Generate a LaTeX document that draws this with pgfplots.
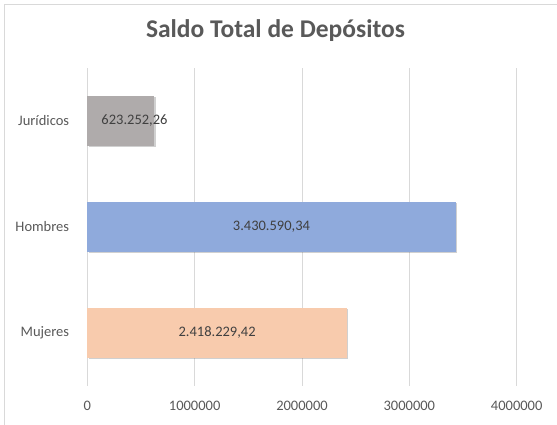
\documentclass[border=0pt]{standalone}
\usepackage{pgfplots}
\pgfplotsset{compat=1.18}
\usetikzlibrary{shadows}
\usepackage{fontspec}
\setmainfont{Carlito}
\definecolor{txt}{HTML}{595959}
\definecolor{lbl}{HTML}{404040}
\definecolor{gridc}{HTML}{D9D9D9}
\definecolor{frm}{HTML}{D9D9D9}
\definecolor{cgray}{HTML}{AFABAB}
\definecolor{cblue}{HTML}{8FAADC}
\definecolor{cpeach}{HTML}{F8CBAD}
\begin{document}
\begin{tikzpicture}
\useasboundingbox (-87.3pt,-38.3pt) rectangle (469.7pt,385.7pt);
\fill[white] (-87.3pt,-38.3pt) rectangle (469.7pt,385.7pt);
\draw[frm,line width=0.8pt] (-83.3pt,-40pt) -- (-83.3pt,381.7pt) -- (472pt,381.7pt);
\begin{axis}[
  at={(0,0)}, anchor=south west,
  scale only axis,
  width=429.4pt, height=317.7pt,
  xmin=0, xmax=4000000,
  ymin=-0.5, ymax=2.5,
  xbar, bar width=50pt, bar shift=0pt,
  axis line style={draw=none},
  major tick length=0pt,
  xmajorgrids, grid style={gridc, line width=0.8pt},
  xtick={0,1000000,2000000,3000000,4000000},
  xticklabels={0,1000000,2000000,3000000,4000000},
  ytick={0,1,2},
  yticklabels={Mujeres,Hombres,Jurídicos},
  scaled x ticks=false,
  tick label style={font=\fontsize{14.5}{17}\selectfont, text=txt},
  xticklabel style={anchor=base, yshift=-24.3pt, inner sep=0pt},
  yticklabel style={anchor=east, xshift=-18pt, inner sep=0pt},
  title={Saldo Total de Depósitos},
  title style={at={(0.5,1)}, anchor=base, yshift=24.7pt, xshift=-26.5pt,
    font=\fontsize{25.5}{30}\selectfont\bfseries, text=txt},
  point meta=explicit symbolic,
  nodes near coords,
  every node near coord/.append style={anchor=center, text=lbl,
    font=\fontsize{14.5}{17}\selectfont},
  clip=false,
]
\addplot[fill=cpeach, draw=none,
  drop shadow={shadow xshift=1.3pt, shadow yshift=-1.3pt, opacity=0.3, fill=black!60},
  every node near coord/.append style={xshift=-129.8pt}]
  coordinates {(2418229.42,0) [2.418.229,42]};
\addplot[fill=cblue, draw=none,
  drop shadow={shadow xshift=1.3pt, shadow yshift=-1.3pt, opacity=0.3, fill=black!60},
  every node near coord/.append style={xshift=-184.1pt}]
  coordinates {(3430590.34,1) [3.430.590,34]};
\addplot[fill=cgray, draw=none,
  drop shadow={shadow xshift=1.3pt, shadow yshift=-1.3pt, opacity=0.3, fill=black!60},
  every node near coord/.append style={xshift=-19.7pt}]
  coordinates {(623252.26,2) [623.252,26]};
\end{axis}
\end{tikzpicture}
\end{document}
